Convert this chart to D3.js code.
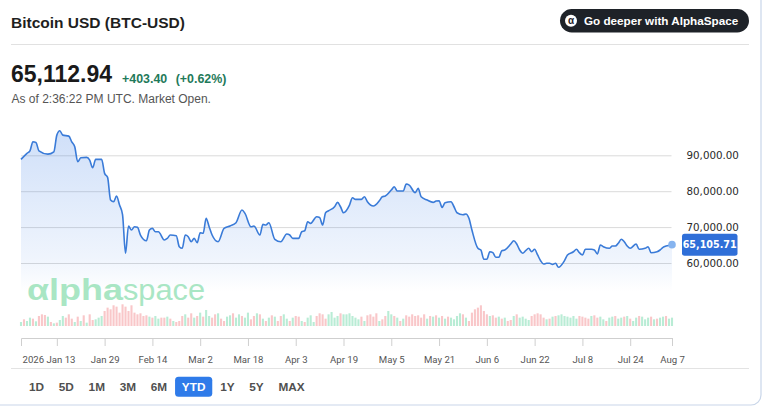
<!DOCTYPE html>
<html><head><meta charset="utf-8">
<script src="https://cdn.jsdelivr.net/npm/d3@7"></script>
<style>
html,body{margin:0;padding:0;background:#fff;overflow:hidden;}
svg{display:block;font-family:"Liberation Sans",Arial,sans-serif;}
</style></head><body>
<svg id="c" width="763" height="408"></svg>
<script>
// ---------- data ----------
const title = "Bitcoin USD (BTC-USD)";
const lastPrice = "65,112.94";
const changeAbs = "+403.40";
const changePct = "(+0.62%)";
const asOfText = "As of 2:36:22 PM UTC. Market Open.";
const ctaText = "Go deeper with AlphaSpace";
const startDate = "2026-01-01";
const endDate = "2026-08-07";
// days since startDate, and price
const priceDays = [0,2,3,4,5,6,9,11,12,13,14,16,17,18,19,20,22,23,24,25,27,28,29,30,31,32,33,34,35,36,37,38,39,40,42,43,44,45,46,48,49,50,52,53,54,55,56,57,58,59,60,61,62,63,64,66,68,70,72,74,75,77,78,80,81,82,83,85,87,89,90,91,93,94,95,96,97,99,100,101,102,103,105,106,107,108,110,111,112,114,115,116,118,120,121,122,124,125,126,128,129,130,132,133,134,136,138,139,140,141,142,144,145,146,148,149,150,151,153,154,155,156,157,158,159,160,161,162,164,165,166,167,168,169,170,171,172,173,174,175,176,177,178,179,180,182,183,185,186,187,188,189,191,192,193,194,195,197,198,199,200,201,202,203,204,206,207,209,210,211,213,214,215,216,218];
const priceValues = [88860,90530,91250,93760,93590,91250,90330,90980,95620,96820,95620,95340,93760,92370,88190,89300,89410,88660,86520,88860,88860,84960,83850,77530,77060,78650,76140,73500,62700,70300,69180,70100,69930,67790,66210,69180,69650,68710,68710,66400,66870,67790,67600,64540,64090,67790,67320,65930,66870,65650,68430,68270,72440,70100,67790,65930,69650,70300,71220,74750,73830,70100,70300,67790,70770,70580,71220,66600,65930,68070,67790,66870,66870,68710,68990,71490,71050,72890,72700,70580,74000,74560,75670,76890,75670,74000,76140,78170,77730,77730,78450,77060,75860,77340,78450,78650,80320,81230,80040,80040,81990,81710,79590,80790,78450,77530,76890,77250,77340,75500,76780,77060,75670,74000,73450,73640,72440,69180,64090,63620,61030,61030,63140,62870,61590,61590,63420,63620,65290,66210,65290,63620,62700,63420,64090,63140,63810,62230,60640,59720,59910,59910,59600,59910,58800,60640,62230,63140,63810,62870,62230,63810,63810,63620,62500,65010,64540,64090,64730,64730,65480,66600,65930,64730,64090,65290,63810,64090,64540,62870,63140,63620,64370,64730,65105.71];
const lastValueLabel = "65,105.71";
// daily volume (relative units), one per day from startDate
const volume = [12,20,15,25,22,14, 30,35,33,28,12, 8,10,18,30,25, 35,22,12,28,15, 32,10,35,18, 20,25,30,
  45,55,50,62,58,40, 65,58,45,62, 40,35,38,30,32, 28,25,30,22,25, 25,28,22,15,12, 15,30,35,25,38,
  25,30,40,28,48, 30,25,35,38,22, 15,28,32,38,25, 35,30,25,40,20, 30,38,35,22,15, 25,32,28,15,30,
  35,22,15,25,30, 28,15,12,25,32, 12,30,38,35,22, 35,42,25,30,38,35,
  35,38,30,25,20,28,15, 32,35,28,38,15,20,30, 45,35, 30,25,15,22,32,28, 35,30,32,25,35,22,30,
  28,32,25,30,22,28,25,20, 30,38,35,25,15, 40,50,55,62,45, 35,30,32,25, 28,22,25,15,18,30,35,
  25,28,22,18, 30,35,38,35,25,20, 22,28,30, 32,35,30,28,25,30,22, 30,28,25,22, 30,32,25,28,
  20,15,25,28,30,22,25, 28,30,22,15,25,30,28,20, 25,28,20,22,25,28,30,22,25];
// g = up day, r = down day
const volumeDir = ("grggrg"+"rrrgr"+"grggr"+"rrgrg"+"rgrr"+"ggg"+"rrrrrrrrrrrrrrr"+"grggr"+"rgrgr"+"rrgrr"+"grgrg"+"grrgr"+"rggrg"+"grggr"+"rgrgr"+"grgrr"+"ggrgr"+"rgrgg"+"grrrr"+"ggggrg"+"gggggrg"+"rrrrgrr"+"gg"+"rgrgrr"+"rrrrrgr"+"grgrgrgg"+"ggrgr"+"rrrrr"+"rgrr"+"grgrrgr"+"gggg"+"rrrrrg"+"rgr"+"ggggggg"+"rrrr"+"grrg"+"grggrgg"+"rgrggrgg"+"grgrggrgg").split("");
const yTicks = [60000,70000,80000,90000];
const xTickDates = ["2026-01-13","2026-01-29","2026-02-14","2026-03-02","2026-03-18","2026-04-03","2026-04-19","2026-05-05","2026-05-21","2026-06-06","2026-06-22","2026-07-08","2026-07-24","2026-08-07"];
const xTickLabels = ["2026 Jan 13","Jan 29","Feb 14","Mar 2","Mar 18","Apr 3","Apr 19","May 5","May 21","Jun 6","Jun 22","Jul 8","Jul 24","Aug 7"];
const ranges = ["1D","5D","1M","3M","6M","YTD","1Y","5Y","MAX"];
const activeRange = "YTD";

// ---------- drawing ----------
const svg = d3.select("#c");
const parse = d3.utcParse("%Y-%m-%d");
const t0 = parse(startDate);
const dayDate = d => d3.utcDay.offset(t0, d);

// card border
svg.append("rect").attr("x",-20).attr("y",-20).attr("width",781).attr("height",425)
  .attr("rx",10).attr("fill","#fff").attr("stroke","#c9d6e9").attr("stroke-width",1.2);

// header
svg.append("text").attr("x",11).attr("y",27.5).attr("font-size",15.5).attr("font-weight",700)
  .attr("fill","#1f1f1f").text(title);

const cta = svg.append("g");
cta.append("rect").attr("x",560).attr("y",9).attr("width",189).attr("height",23.5).attr("rx",11.75).attr("fill","#1e2228");
cta.append("circle").attr("cx",571).attr("cy",20.75).attr("r",6).attr("fill","#fff");
cta.append("text").attr("x",571).attr("y",24).attr("text-anchor","middle").attr("font-size",10).attr("font-weight",700).attr("fill","#1e2228").text("α");
cta.append("text").attr("x",584).attr("y",25).attr("font-size",11.7).attr("font-weight",700).attr("fill","#fff").text(ctaText);

svg.append("line").attr("x1",11).attr("x2",749).attr("y1",44.5).attr("y2",44.5).attr("stroke","#e1e1e1");

const pTxt = svg.append("text").attr("x",11).attr("y",81.5).attr("font-size",23).attr("font-weight",700).attr("fill","#1a1a1a").text(lastPrice);
const pw = pTxt.node().getComputedTextLength();
const cTxt = svg.append("text").attr("x",11+pw+10).attr("y",82.5).attr("font-size",12.4).attr("font-weight",700).attr("fill","#1f7a5a").text(changeAbs);
const cw = cTxt.node().getComputedTextLength();
svg.append("text").attr("x",11+pw+10+cw+8.5).attr("y",82.5).attr("font-size",12.4).attr("font-weight",700).attr("fill","#1f7a5a").text(changePct);
svg.append("text").attr("x",11.5).attr("y",102.5).attr("font-size",12).attr("fill","#555").text(asOfText);

// scales
const x = d3.scaleUtc().domain([t0, parse(endDate)]).range([21, 672]);
const y = d3.scaleLinear().domain([60000, 90000]).range([263, 155.3]);
const yVol = d3.scaleLinear().domain([0, 65]).range([326, 304.3]);

// gridlines
svg.append("g").selectAll("line").data(yTicks).join("line")
  .attr("x1",21).attr("x2",671.5).attr("y1",d=>y(d)+0.5).attr("y2",d=>y(d)+0.5)
  .attr("stroke","#dadada").attr("stroke-width",1);

// area + line
const pts = priceDays.map((d,i)=>({date:dayDate(d), v:priceValues[i]}));
const defs = svg.append("defs");
const grad = defs.append("linearGradient").attr("id","ag").attr("gradientUnits","userSpaceOnUse")
  .attr("x1",0).attr("x2",0).attr("y1",125).attr("y2",292);
grad.append("stop").attr("offset",0).attr("stop-color","#3b7de6").attr("stop-opacity",0.25);
grad.append("stop").attr("offset",0.8).attr("stop-color","#3b7de6").attr("stop-opacity",0.08);
grad.append("stop").attr("offset",1).attr("stop-color","#3b7de6").attr("stop-opacity",0);
const curve = d3.curveMonotoneX;
svg.append("path").datum(pts)
  .attr("d", d3.area().x(d=>x(d.date)).y0(292).y1(d=>y(d.v)).curve(curve))
  .attr("fill","url(#ag)");
svg.append("path").datum(pts)
  .attr("d", d3.line().x(d=>x(d.date)).y(d=>y(d.v)).curve(curve))
  .attr("fill","none").attr("stroke","#3a7bd8").attr("stroke-width",1.6).attr("stroke-linejoin","round");

// watermark
svg.append("text").attr("x",27).attr("y",300).attr("font-size",29).attr("font-weight",700)
  .attr("fill","#a9e6c4").attr("textLength",96).attr("lengthAdjust","spacingAndGlyphs").text("αlpha");
svg.append("text").attr("x",123).attr("y",300).attr("font-size",29)
  .attr("fill","#a9e6c4").attr("textLength",82).attr("lengthAdjust","spacingAndGlyphs").text("space");

// volume bars
const bw = 2.1;
svg.append("g").selectAll("rect").data(volume).join("rect")
  .attr("x",(d,i)=>x(dayDate(i))-bw/2).attr("width",bw)
  .attr("y",d=>yVol(d)).attr("height",d=>yVol(0)-yVol(d))
  .attr("fill",(d,i)=>volumeDir[i]==="g" ? "#b9ecd5" : "#f9c7c9");

// end point + value label
const last = pts[pts.length-1];
svg.append("circle").attr("cx",x(last.date)).attr("cy",y(last.v)).attr("r",3.8).attr("fill","#86b4ef");
svg.append("rect").attr("x",682).attr("y",y(last.v)-11).attr("width",55.5).attr("height",22).attr("rx",2.5).attr("fill","#2f6fd8");
svg.append("text").attr("x",709.7).attr("y",y(last.v)).attr("dy","0.35em").attr("text-anchor","middle")
  .attr("font-family","'DejaVu Sans',sans-serif").attr("font-size",9.6).attr("font-weight",700).attr("fill","#fff").text(lastValueLabel);

// y axis labels
const ya = svg.append("g").attr("transform","translate(686.5,0)")
  .call(d3.axisRight(y).tickValues(yTicks).tickFormat(d3.format(",.2f")).tickSize(0).tickPadding(0));
ya.select(".domain").remove();
ya.selectAll("text").attr("font-family","'DejaVu Sans',sans-serif").attr("font-size",10.3).attr("fill","#2a2a2a").attr("dy","0.34em");

// x axis
const xa = svg.append("g").attr("transform","translate(0,338)")
  .call(d3.axisBottom(x).tickValues(xTickDates.map(parse)).tickFormat((d,i)=>xTickLabels[i]).tickSize(8).tickSizeOuter(8));
xa.select(".domain").attr("stroke","#cfcfcf");
xa.selectAll(".tick line").attr("stroke","#cfcfcf");
xa.selectAll("text").attr("y",18).attr("font-family","Roboto,sans-serif").attr("font-size",9.6).attr("fill","#555");
// first label starts at the left edge of the axis
xa.selectAll(".tick").filter((d,i)=>i===0).select("text")
  .attr("text-anchor","start").attr("x", d => x.range()[0] - x(d) + 1);

svg.append("line").attr("x1",11).attr("x2",749).attr("y1",368.5).attr("y2",368.5).attr("stroke","#e3e3e3");

// range buttons
let bx = 29;
const bg = svg.append("g");
ranges.forEach(r=>{
  const t = bg.append("text").attr("x",bx).attr("y",391).attr("font-size",11.8).attr("font-weight",700)
    .attr("fill", r===activeRange ? "#fff" : "#505050").text(r);
  const w = t.node().getComputedTextLength();
  if (r===activeRange) {
    bg.insert("rect","text").attr("x",bx-6.8).attr("y",376.7).attr("width",w+13.6).attr("height",20).attr("rx",3.5).attr("fill","#2f7be9");
  }
  bx += w + 14.7;
});
</script>
</body></html>
